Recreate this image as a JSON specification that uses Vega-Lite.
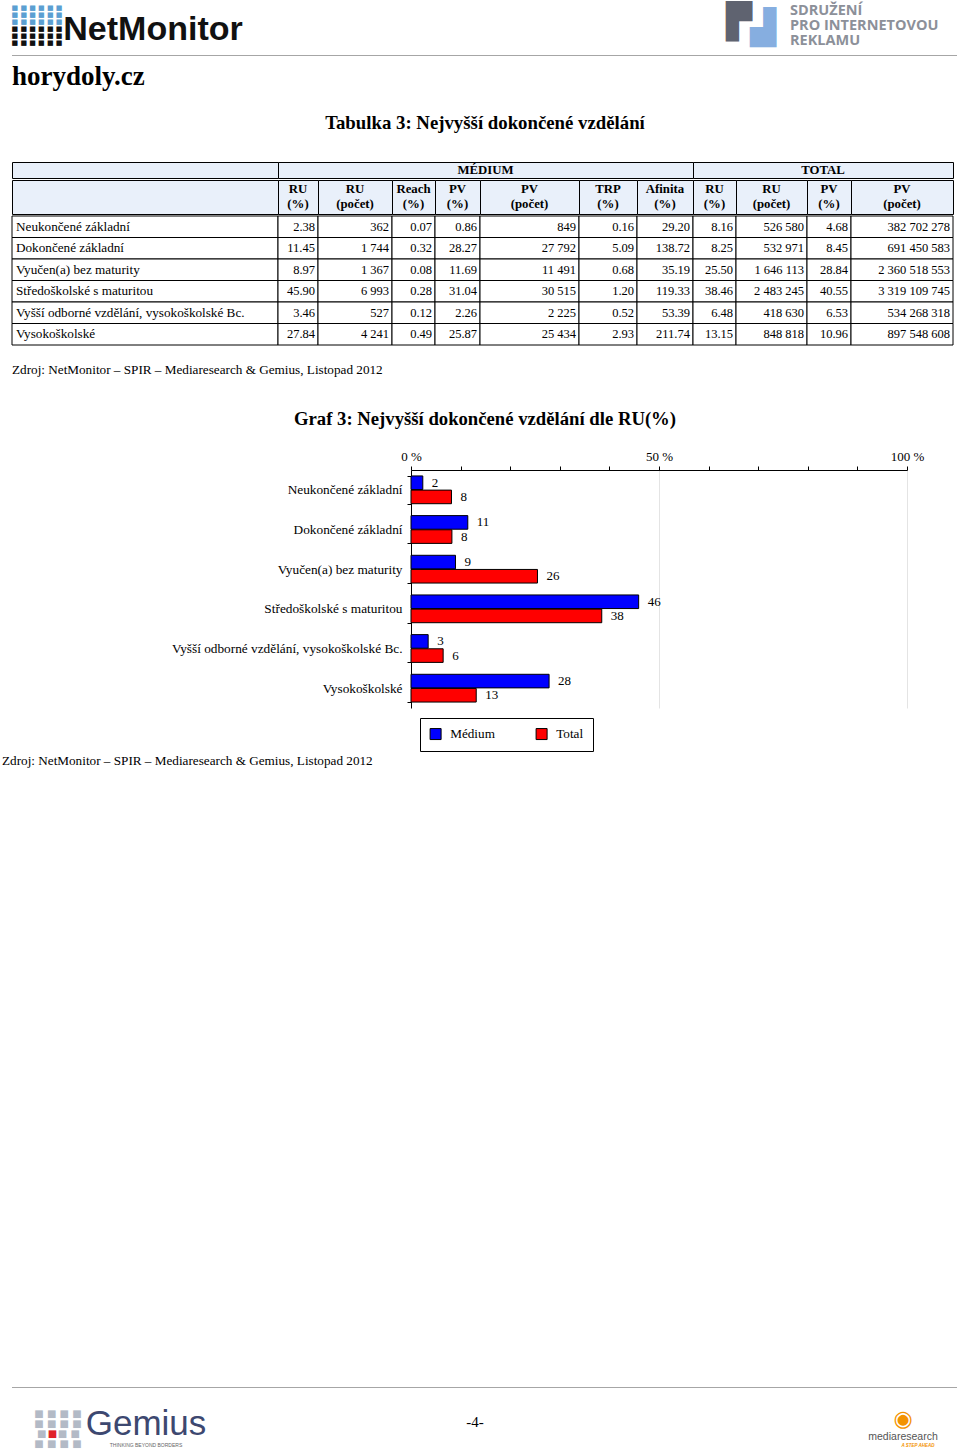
{
"$schema": "https://vega.github.io/schema/vega-lite/v6.json",
"padding": 0,
"background": "white",
"spacing": 0,
"config": {
  "view": {"stroke": null},
  "concat": {"spacing": 0},
  "font": "Liberation Serif",
  "text": {"font": "Liberation Serif", "fontSize": 13.2, "color": "#000", "baseline": "middle"},
  "axis": {"labelFont": "Liberation Serif", "labelFontSize": 13.2, "labelColor": "#000"},
  "legend": {"labelFont": "Liberation Serif", "labelFontSize": 13.2, "labelColor": "#000"},
  "locale": {"number": {"decimal": ".", "thousands": " ", "grouping": [3], "currency": ["", ""]}}
},
"datasets": {
  "one": [{}],
  "rows": [
    {"cat": "Neukončené základní", "ru": 2.38, "ru_n": 362, "reach": 0.07, "pv": 0.86, "pv_n": 849, "trp": 0.16, "aff": 29.20, "t_ru": 8.16, "t_ru_n": 526580, "t_pv": 4.68, "t_pv_n": 382702278},
    {"cat": "Dokončené základní", "ru": 11.45, "ru_n": 1744, "reach": 0.32, "pv": 28.27, "pv_n": 27792, "trp": 5.09, "aff": 138.72, "t_ru": 8.25, "t_ru_n": 532971, "t_pv": 8.45, "t_pv_n": 691450583},
    {"cat": "Vyučen(a) bez maturity", "ru": 8.97, "ru_n": 1367, "reach": 0.08, "pv": 11.69, "pv_n": 11491, "trp": 0.68, "aff": 35.19, "t_ru": 25.50, "t_ru_n": 1646113, "t_pv": 28.84, "t_pv_n": 2360518553},
    {"cat": "Středoškolské s maturitou", "ru": 45.90, "ru_n": 6993, "reach": 0.28, "pv": 31.04, "pv_n": 30515, "trp": 1.20, "aff": 119.33, "t_ru": 38.46, "t_ru_n": 2483245, "t_pv": 40.55, "t_pv_n": 3319109745},
    {"cat": "Vyšší odborné vzdělání, vysokoškolské Bc.", "ru": 3.46, "ru_n": 527, "reach": 0.12, "pv": 2.26, "pv_n": 2225, "trp": 0.52, "aff": 53.39, "t_ru": 6.48, "t_ru_n": 418630, "t_pv": 6.53, "t_pv_n": 534268318},
    {"cat": "Vysokoškolské", "ru": 27.84, "ru_n": 4241, "reach": 0.49, "pv": 25.87, "pv_n": 25434, "trp": 2.93, "aff": 211.74, "t_ru": 13.15, "t_ru_n": 848818, "t_pv": 10.96, "t_pv_n": 897548608}
  ],
  "bars": [
    {"cat": "Neukončené základní", "series": "Médium", "value": 2.38},
    {"cat": "Neukončené základní", "series": "Total", "value": 8.16},
    {"cat": "Dokončené základní", "series": "Médium", "value": 11.45},
    {"cat": "Dokončené základní", "series": "Total", "value": 8.25},
    {"cat": "Vyučen(a) bez maturity", "series": "Médium", "value": 8.97},
    {"cat": "Vyučen(a) bez maturity", "series": "Total", "value": 25.50},
    {"cat": "Středoškolské s maturitou", "series": "Médium", "value": 45.90},
    {"cat": "Středoškolské s maturitou", "series": "Total", "value": 38.46},
    {"cat": "Vyšší odborné vzdělání, vysokoškolské Bc.", "series": "Médium", "value": 3.46},
    {"cat": "Vyšší odborné vzdělání, vysokoškolské Bc.", "series": "Total", "value": 6.48},
    {"cat": "Vysokoškolské", "series": "Médium", "value": 27.84},
    {"cat": "Vysokoškolské", "series": "Total", "value": 13.15}
  ]
},
"vconcat": [
  {"bounds": "flush", "hconcat": [
    {"width": 17, "height": 55, "data": {"name": "one"}, "mark": {"type": "text", "text": "", "fontSize": 0}, "encoding": {}},
    {"width": 40, "height": 55, "data": {"name": "one"}, "layer": [
      {"mark": {"type": "text", "font": "DejaVu Sans", "fontSize": 7, "color": "#5b9fd2", "dy": -19.5}, "encoding": {"text": {"value": "■ ■ ■ ■ ■ ■"}}},
      {"mark": {"type": "text", "font": "DejaVu Sans", "fontSize": 7, "color": "#5b9fd2", "dy": -12.5}, "encoding": {"text": {"value": "■ ■ ■ ■ ■ ■"}}},
      {"mark": {"type": "text", "font": "DejaVu Sans", "fontSize": 7, "color": "#5b9fd2", "dy": -5.5}, "encoding": {"text": {"value": "■ ■ ■ ■ ■ ■"}}},
      {"mark": {"type": "text", "font": "DejaVu Sans", "fontSize": 7, "color": "#111111", "dy": 1.5}, "encoding": {"text": {"value": "■ ■ ■ ■ ■ ■"}}},
      {"mark": {"type": "text", "font": "DejaVu Sans", "fontSize": 7, "color": "#111111", "dy": 8.5}, "encoding": {"text": {"value": "■ ■ ■ ■ ■ ■"}}},
      {"mark": {"type": "text", "font": "DejaVu Sans", "fontSize": 7, "color": "#111111", "dy": 15.5}, "encoding": {"text": {"value": "■ ■ ■ ■ ■ ■"}}}
    ]},
    {"width": 7, "height": 55, "data": {"name": "one"}, "mark": {"type": "text", "text": "", "fontSize": 0}, "encoding": {}},
    {"width": 178, "height": 55, "data": {"name": "one"}, "mark": {"type": "text", "font": "Liberation Sans", "fontWeight": "bold", "fontSize": 34, "color": "#111111", "dy": 2}, "encoding": {"text": {"value": "NetMonitor"}}},
    {"width": 480, "height": 55, "data": {"name": "one"}, "mark": {"type": "text", "text": "", "fontSize": 0}, "encoding": {}},
    {"width": 58, "height": 55, "data": {"name": "one"}, "layer": [
      {"mark": {"type": "text", "font": "DejaVu Sans", "fontSize": 34, "color": "#5f6370", "dx": -12, "dy": -5}, "encoding": {"text": {"value": "▛"}}},
      {"mark": {"type": "text", "font": "DejaVu Sans", "fontSize": 34, "color": "#86aee0", "dx": 12, "dy": 1}, "encoding": {"text": {"value": "▟"}}}
    ]},
    {"width": 10, "height": 55, "data": {"name": "one"}, "mark": {"type": "text", "text": "", "fontSize": 0}, "encoding": {}},
    {"width": 168, "height": 55, "data": {"name": "one"}, "layer": [
      {"mark": {"type": "text", "align": "left", "font": "Open Sans", "fontWeight": "bold", "fontSize": 14.5, "color": "#8c9099", "dy": -16.5}, "encoding": {"x": {"value": 0}, "text": {"value": "SDRUŽENÍ"}}},
      {"mark": {"type": "text", "align": "left", "font": "Open Sans", "fontWeight": "bold", "fontSize": 14.5, "color": "#8c9099", "dy": -1.5}, "encoding": {"x": {"value": 0}, "text": {"value": "PRO INTERNETOVOU"}}},
      {"mark": {"type": "text", "align": "left", "font": "Open Sans", "fontWeight": "bold", "fontSize": 14.5, "color": "#8c9099", "dy": 13.5}, "encoding": {"x": {"value": 0}, "text": {"value": "REKLAMU"}}}
    ]}
  ]},
  {"bounds": "flush", "hconcat": [
    {"width": 12, "height": 1, "data": {"name": "one"}, "mark": {"type": "text", "text": "", "fontSize": 0}, "encoding": {}},
    {"width": 945, "height": 1, "view": {"fill": "#a6a6a6"}, "data": {"name": "one"}, "mark": {"type": "text", "text": "", "fontSize": 0}, "encoding": {}}
  ]},
  {"bounds": "flush", "hconcat": [
    {"width": 12, "height": 41, "data": {"name": "one"}, "mark": {"type": "text", "text": "", "fontSize": 0}, "encoding": {}},
    {"width": 300, "height": 41, "data": {"name": "one"}, "mark": {"type": "text", "align": "left", "fontWeight": "bold", "fontSize": 27}, "encoding": {"x": {"value": 0}, "text": {"value": "horydoly.cz"}}}
  ]},
  {"bounds": "flush", "hconcat": [
    {"width": 12, "height": 52, "data": {"name": "one"}, "mark": {"type": "text", "text": "", "fontSize": 0}, "encoding": {}},
    {"width": 946, "height": 52, "data": {"name": "one"}, "mark": {"type": "text", "fontWeight": "bold", "fontSize": 18.8}, "encoding": {"text": {"value": "Tabulka 3: Nejvyšší dokončené vzdělání"}}}
  ]},
  {"width": 12, "height": 12, "data": {"name": "one"}, "mark": {"type": "text", "text": "", "fontSize": 0}, "encoding": {}},
  {"spacing": 0, "vconcat": [
      {"bounds": "flush", "hconcat": [
        {"width": 12, "height": 16, "data": {"name": "one"}, "mark": {"type": "text", "text": "", "fontSize": 0}, "encoding": {}},
        {"width": 266, "height": 16, "view": {"fill": "#e9f0fa", "stroke": "#000"}, "data": {"name": "one"}, "mark": {"type": "text", "text": "", "fontSize": 0}, "encoding": {}},
        {"width": 415, "height": 16, "view": {"fill": "#e9f0fa", "stroke": "#000"}, "data": {"name": "one"}, "mark": {"type": "text", "fontWeight": "bold", "fontSize": 12.8}, "encoding": {"text": {"value": "MÉDIUM"}}},
        {"width": 260, "height": 16, "view": {"fill": "#e9f0fa", "stroke": "#000"}, "data": {"name": "one"}, "mark": {"type": "text", "fontWeight": "bold", "fontSize": 12.8}, "encoding": {"text": {"value": "TOTAL"}}}
      ]},
      {"bounds": "flush", "hconcat": [
        {"width": 12, "height": 34, "data": {"name": "one"}, "mark": {"type": "text", "text": "", "fontSize": 0}, "encoding": {}},
        {"width": 266, "height": 34, "view": {"fill": "#e9f0fa", "stroke": "#000"}, "data": {"name": "one"}, "mark": {"type": "text", "text": "", "fontSize": 0}, "encoding": {}},
        {"width": 40, "height": 34, "view": {"fill": "#e9f0fa", "stroke": "#000"}, "data": {"name": "one"}, "mark": {"type": "text", "fontWeight": "bold", "fontSize": 12.8, "lineHeight": 15, "dy": -8.5}, "encoding": {"text": {"value": ["RU", "(%)"]}}},
        {"width": 74, "height": 34, "view": {"fill": "#e9f0fa", "stroke": "#000"}, "data": {"name": "one"}, "mark": {"type": "text", "fontWeight": "bold", "fontSize": 12.8, "lineHeight": 15, "dy": -8.5}, "encoding": {"text": {"value": ["RU", "(počet)"]}}},
        {"width": 43, "height": 34, "view": {"fill": "#e9f0fa", "stroke": "#000"}, "data": {"name": "one"}, "mark": {"type": "text", "fontWeight": "bold", "fontSize": 12.8, "lineHeight": 15, "dy": -8.5}, "encoding": {"text": {"value": ["Reach", "(%)"]}}},
        {"width": 45, "height": 34, "view": {"fill": "#e9f0fa", "stroke": "#000"}, "data": {"name": "one"}, "mark": {"type": "text", "fontWeight": "bold", "fontSize": 12.8, "lineHeight": 15, "dy": -8.5}, "encoding": {"text": {"value": ["PV", "(%)"]}}},
        {"width": 99, "height": 34, "view": {"fill": "#e9f0fa", "stroke": "#000"}, "data": {"name": "one"}, "mark": {"type": "text", "fontWeight": "bold", "fontSize": 12.8, "lineHeight": 15, "dy": -8.5}, "encoding": {"text": {"value": ["PV", "(počet)"]}}},
        {"width": 58, "height": 34, "view": {"fill": "#e9f0fa", "stroke": "#000"}, "data": {"name": "one"}, "mark": {"type": "text", "fontWeight": "bold", "fontSize": 12.8, "lineHeight": 15, "dy": -8.5}, "encoding": {"text": {"value": ["TRP", "(%)"]}}},
        {"width": 56, "height": 34, "view": {"fill": "#e9f0fa", "stroke": "#000"}, "data": {"name": "one"}, "mark": {"type": "text", "fontWeight": "bold", "fontSize": 12.8, "lineHeight": 15, "dy": -8.5}, "encoding": {"text": {"value": ["Afinita", "(%)"]}}},
        {"width": 43, "height": 34, "view": {"fill": "#e9f0fa", "stroke": "#000"}, "data": {"name": "one"}, "mark": {"type": "text", "fontWeight": "bold", "fontSize": 12.8, "lineHeight": 15, "dy": -8.5}, "encoding": {"text": {"value": ["RU", "(%)"]}}},
        {"width": 71, "height": 34, "view": {"fill": "#e9f0fa", "stroke": "#000"}, "data": {"name": "one"}, "mark": {"type": "text", "fontWeight": "bold", "fontSize": 12.8, "lineHeight": 15, "dy": -8.5}, "encoding": {"text": {"value": ["RU", "(počet)"]}}},
        {"width": 44, "height": 34, "view": {"fill": "#e9f0fa", "stroke": "#000"}, "data": {"name": "one"}, "mark": {"type": "text", "fontWeight": "bold", "fontSize": 12.8, "lineHeight": 15, "dy": -8.5}, "encoding": {"text": {"value": ["PV", "(%)"]}}},
        {"width": 102, "height": 34, "view": {"fill": "#e9f0fa", "stroke": "#000"}, "data": {"name": "one"}, "mark": {"type": "text", "fontWeight": "bold", "fontSize": 12.8, "lineHeight": 15, "dy": -8.5}, "encoding": {"text": {"value": ["PV", "(počet)"]}}}
      ]},
      {"bounds": "flush", "hconcat": [
        {"width": 12, "height": 129, "data": {"name": "one"}, "mark": {"type": "text", "text": "", "fontSize": 0}, "encoding": {}},
        {"width": 266, "height": 129, "data": {"name": "rows"}, "encoding": {"y": {"field": "cat", "type": "nominal", "sort": null, "axis": null, "scale": {"paddingInner": 0, "paddingOuter": 0}}}, "layer": [
          {"mark": {"type": "rect", "fill": "white", "stroke": "#000", "strokeWidth": 1}},
          {"mark": {"type": "text", "align": "left", "dx": 4}, "encoding": {"x": {"value": 0}, "text": {"field": "cat"}}}]},
        {"width": 40, "height": 129, "data": {"name": "rows"}, "encoding": {"y": {"field": "cat", "type": "nominal", "sort": null, "axis": null, "scale": {"paddingInner": 0, "paddingOuter": 0}}}, "layer": [
          {"mark": {"type": "rect", "fill": "white", "stroke": "#000", "strokeWidth": 1}},
          {"mark": {"type": "text", "align": "right", "dx": -3, "fontSize": 12.5}, "encoding": {"x": {"value": "width"}, "text": {"field": "ru", "format": ".2f"}}}]},
        {"width": 74, "height": 129, "data": {"name": "rows"}, "encoding": {"y": {"field": "cat", "type": "nominal", "sort": null, "axis": null, "scale": {"paddingInner": 0, "paddingOuter": 0}}}, "layer": [
          {"mark": {"type": "rect", "fill": "white", "stroke": "#000", "strokeWidth": 1}},
          {"mark": {"type": "text", "align": "right", "dx": -3, "fontSize": 12.5}, "encoding": {"x": {"value": "width"}, "text": {"field": "ru_n", "format": ",d"}}}]},
        {"width": 43, "height": 129, "data": {"name": "rows"}, "encoding": {"y": {"field": "cat", "type": "nominal", "sort": null, "axis": null, "scale": {"paddingInner": 0, "paddingOuter": 0}}}, "layer": [
          {"mark": {"type": "rect", "fill": "white", "stroke": "#000", "strokeWidth": 1}},
          {"mark": {"type": "text", "align": "right", "dx": -3, "fontSize": 12.5}, "encoding": {"x": {"value": "width"}, "text": {"field": "reach", "format": ".2f"}}}]},
        {"width": 45, "height": 129, "data": {"name": "rows"}, "encoding": {"y": {"field": "cat", "type": "nominal", "sort": null, "axis": null, "scale": {"paddingInner": 0, "paddingOuter": 0}}}, "layer": [
          {"mark": {"type": "rect", "fill": "white", "stroke": "#000", "strokeWidth": 1}},
          {"mark": {"type": "text", "align": "right", "dx": -3, "fontSize": 12.5}, "encoding": {"x": {"value": "width"}, "text": {"field": "pv", "format": ".2f"}}}]},
        {"width": 99, "height": 129, "data": {"name": "rows"}, "encoding": {"y": {"field": "cat", "type": "nominal", "sort": null, "axis": null, "scale": {"paddingInner": 0, "paddingOuter": 0}}}, "layer": [
          {"mark": {"type": "rect", "fill": "white", "stroke": "#000", "strokeWidth": 1}},
          {"mark": {"type": "text", "align": "right", "dx": -3, "fontSize": 12.5}, "encoding": {"x": {"value": "width"}, "text": {"field": "pv_n", "format": ",d"}}}]},
        {"width": 58, "height": 129, "data": {"name": "rows"}, "encoding": {"y": {"field": "cat", "type": "nominal", "sort": null, "axis": null, "scale": {"paddingInner": 0, "paddingOuter": 0}}}, "layer": [
          {"mark": {"type": "rect", "fill": "white", "stroke": "#000", "strokeWidth": 1}},
          {"mark": {"type": "text", "align": "right", "dx": -3, "fontSize": 12.5}, "encoding": {"x": {"value": "width"}, "text": {"field": "trp", "format": ".2f"}}}]},
        {"width": 56, "height": 129, "data": {"name": "rows"}, "encoding": {"y": {"field": "cat", "type": "nominal", "sort": null, "axis": null, "scale": {"paddingInner": 0, "paddingOuter": 0}}}, "layer": [
          {"mark": {"type": "rect", "fill": "white", "stroke": "#000", "strokeWidth": 1}},
          {"mark": {"type": "text", "align": "right", "dx": -3, "fontSize": 12.5}, "encoding": {"x": {"value": "width"}, "text": {"field": "aff", "format": ".2f"}}}]},
        {"width": 43, "height": 129, "data": {"name": "rows"}, "encoding": {"y": {"field": "cat", "type": "nominal", "sort": null, "axis": null, "scale": {"paddingInner": 0, "paddingOuter": 0}}}, "layer": [
          {"mark": {"type": "rect", "fill": "white", "stroke": "#000", "strokeWidth": 1}},
          {"mark": {"type": "text", "align": "right", "dx": -3, "fontSize": 12.5}, "encoding": {"x": {"value": "width"}, "text": {"field": "t_ru", "format": ".2f"}}}]},
        {"width": 71, "height": 129, "data": {"name": "rows"}, "encoding": {"y": {"field": "cat", "type": "nominal", "sort": null, "axis": null, "scale": {"paddingInner": 0, "paddingOuter": 0}}}, "layer": [
          {"mark": {"type": "rect", "fill": "white", "stroke": "#000", "strokeWidth": 1}},
          {"mark": {"type": "text", "align": "right", "dx": -3, "fontSize": 12.5}, "encoding": {"x": {"value": "width"}, "text": {"field": "t_ru_n", "format": ",d"}}}]},
        {"width": 44, "height": 129, "data": {"name": "rows"}, "encoding": {"y": {"field": "cat", "type": "nominal", "sort": null, "axis": null, "scale": {"paddingInner": 0, "paddingOuter": 0}}}, "layer": [
          {"mark": {"type": "rect", "fill": "white", "stroke": "#000", "strokeWidth": 1}},
          {"mark": {"type": "text", "align": "right", "dx": -3, "fontSize": 12.5}, "encoding": {"x": {"value": "width"}, "text": {"field": "t_pv", "format": ".2f"}}}]},
        {"width": 102, "height": 129, "data": {"name": "rows"}, "encoding": {"y": {"field": "cat", "type": "nominal", "sort": null, "axis": null, "scale": {"paddingInner": 0, "paddingOuter": 0}}}, "layer": [
          {"mark": {"type": "rect", "fill": "white", "stroke": "#000", "strokeWidth": 1}},
          {"mark": {"type": "text", "align": "right", "dx": -3, "fontSize": 12.5}, "encoding": {"x": {"value": "width"}, "text": {"field": "t_pv_n", "format": ",d"}}}]}
      ]}
  ]},
  {"bounds": "flush", "hconcat": [
    {"width": 12, "height": 48, "data": {"name": "one"}, "mark": {"type": "text", "text": "", "fontSize": 0}, "encoding": {}},
    {"width": 420, "height": 48, "data": {"name": "one"}, "mark": {"type": "text", "align": "left"}, "encoding": {"x": {"value": 0}, "text": {"value": "Zdroj: NetMonitor – SPIR – Mediaresearch & Gemius, Listopad 2012"}}}
  ]},
  {"bounds": "flush", "hconcat": [
    {"width": 12, "height": 50, "data": {"name": "one"}, "mark": {"type": "text", "text": "", "fontSize": 0}, "encoding": {}},
    {"width": 946, "height": 50, "data": {"name": "one"}, "mark": {"type": "text", "fontWeight": "bold", "fontSize": 18.7}, "encoding": {"text": {"value": "Graf 3: Nejvyšší dokončené vzdělání dle RU(%)"}}}
  ]},
  {"width": 12, "height": 6, "data": {"name": "one"}, "mark": {"type": "text", "text": "", "fontSize": 0}, "encoding": {}},
  {"bounds": "flush", "hconcat": [
    {"width": 411, "height": 238, "data": {"name": "one"}, "mark": {"type": "text", "text": "", "fontSize": 0}, "encoding": {}},
    {"width": 496, "height": 238, "data": {"name": "bars"},
     "encoding": {
       "y": {"field": "cat", "type": "nominal", "sort": null, "scale": {"paddingInner": 0.3, "paddingOuter": 0.15},
             "axis": {"title": null, "domainColor": "#000", "tickColor": "#000", "tickSize": 4, "tickBand": "extent", "labelPadding": 5, "labelLimit": 320, "grid": false, "labelFont": "Liberation Serif", "labelFontSize": 13.3}},
       "yOffset": {"field": "series", "type": "nominal", "sort": ["Médium", "Total"], "scale": {"paddingInner": 0.04}},
       "x": {"field": "value", "type": "quantitative", "scale": {"domain": [0, 100], "nice": false},
             "axis": {"orient": "top", "title": null, "values": [0, 10, 20, 30, 40, 50, 60, 70, 80, 90, 100],
                      "labelExpr": "datum.value % 50 === 0 ? datum.value + ' %' : ''", "labelFlush": false, "labelOverlap": false,
                      "tickSize": 4, "domainColor": "#000", "tickColor": "#000", "labelPadding": 3,
                      "labelFont": "Liberation Serif", "labelFontSize": 13,
                      "grid": true, "gridColor": "#e4e4e4",
                      "gridOpacity": {"condition": {"test": "datum.value === 50 || datum.value === 100", "value": 1}, "value": 0}}}
     },
     "layer": [
       {"mark": {"type": "bar", "stroke": "#000", "strokeWidth": 1},
        "encoding": {"color": {"field": "series", "type": "nominal",
          "scale": {"domain": ["Médium", "Total"], "range": ["#0000ff", "#ff0000"]},
          "legend": {"title": null, "orient": "none", "legendX": 420, "legendY": 718, "direction": "horizontal",
                     "strokeColor": "#000", "padding": 9, "symbolType": "square", "symbolSize": 121,
                     "symbolStrokeColor": "#000", "symbolStrokeWidth": 1, "symbolOpacity": 1,
                     "labelFont": "Liberation Serif", "labelFontSize": 13.2,
                     "labelOffset": 8, "columnPadding": 39}}}},
       {"mark": {"type": "text", "align": "left", "dx": 9, "fontSize": 13}, "encoding": {"text": {"field": "value", "format": ".0f"}}}
     ]}
  ]},
  {"bounds": "flush", "hconcat": [
    {"width": 2, "height": 106, "data": {"name": "one"}, "mark": {"type": "text", "text": "", "fontSize": 0}, "encoding": {}},
    {"width": 420, "height": 106, "data": {"name": "one"}, "mark": {"type": "text", "align": "left"}, "encoding": {"x": {"value": 0}, "text": {"value": "Zdroj: NetMonitor – SPIR – Mediaresearch & Gemius, Listopad 2012"}}}
  ]},
  {"width": 12, "height": 573, "data": {"name": "one"}, "mark": {"type": "text", "text": "", "fontSize": 0}, "encoding": {}},
  {"bounds": "flush", "hconcat": [
    {"width": 12, "height": 1, "data": {"name": "one"}, "mark": {"type": "text", "text": "", "fontSize": 0}, "encoding": {}},
    {"width": 945, "height": 1, "view": {"fill": "#a6a6a6"}, "data": {"name": "one"}, "mark": {"type": "text", "text": "", "fontSize": 0}, "encoding": {}}
  ]},
  {"bounds": "flush", "hconcat": [
    {"width": 35, "height": 68, "data": {"name": "one"}, "mark": {"type": "text", "text": "", "fontSize": 0}, "encoding": {}},
    {"width": 46, "height": 68, "data": {"name": "one"}, "layer": [
      {"mark": {"type": "text", "font": "DejaVu Sans", "fontSize": 10, "color": "#b3bac6", "dy": -8}, "encoding": {"text": {"value": "■ ■ ■ ■"}}},
      {"mark": {"type": "text", "font": "DejaVu Sans", "fontSize": 10, "color": "#b3bac6", "dy": 2}, "encoding": {"text": {"value": "■ ■ ■ ■"}}},
      {"mark": {"type": "text", "font": "DejaVu Sans", "fontSize": 10, "color": "#b3bac6", "dx": -16.4, "dy": 12}, "encoding": {"text": {"value": "■"}}},
      {"mark": {"type": "text", "font": "DejaVu Sans", "fontSize": 10, "color": "#e0202a", "dx": -5.5, "dy": 12}, "encoding": {"text": {"value": "■"}}},
      {"mark": {"type": "text", "font": "DejaVu Sans", "fontSize": 10, "color": "#b3bac6", "dx": 10.9, "dy": 12}, "encoding": {"text": {"value": "■ ■"}}},
      {"mark": {"type": "text", "font": "DejaVu Sans", "fontSize": 10, "color": "#b3bac6", "dy": 22}, "encoding": {"text": {"value": "■ ■ ■ ■"}}}
    ]},
    {"width": 4, "height": 68, "data": {"name": "one"}, "mark": {"type": "text", "text": "", "fontSize": 0}, "encoding": {}},
    {"width": 122, "height": 68, "data": {"name": "one"}, "layer": [
      {"mark": {"type": "text", "font": "Liberation Sans", "fontSize": 35, "color": "#3d4870", "dy": 2}, "encoding": {"text": {"value": "Gemius"}}},
      {"mark": {"type": "text", "font": "Liberation Sans", "fontSize": 5, "color": "#666666", "dy": 23}, "encoding": {"text": {"value": "THINKING  BEYOND  BORDERS"}}}
    ]},
    {"width": 248, "height": 68, "data": {"name": "one"}, "mark": {"type": "text", "text": "", "fontSize": 0}, "encoding": {}},
    {"width": 40, "height": 68, "data": {"name": "one"}, "mark": {"type": "text", "fontSize": 15}, "encoding": {"text": {"value": "-4-"}}},
    {"width": 370, "height": 68, "data": {"name": "one"}, "mark": {"type": "text", "text": "", "fontSize": 0}, "encoding": {}},
    {"width": 76, "height": 68, "data": {"name": "one"}, "layer": [
      {"mark": {"type": "text", "font": "DejaVu Sans", "fontSize": 22, "color": "#f39200", "dy": -3}, "encoding": {"text": {"value": "◉"}}},
      {"mark": {"type": "text", "font": "Liberation Sans", "fontSize": 10.5, "color": "#555555", "dy": 15}, "encoding": {"text": {"value": "mediaresearch"}}},
      {"mark": {"type": "text", "font": "Liberation Sans", "fontSize": 4.5, "fontWeight": "bold", "fontStyle": "italic", "color": "#f39200", "dx": 15, "dy": 24}, "encoding": {"text": {"value": "A STEP AHEAD"}}}
    ]}
  ]}
]
}
